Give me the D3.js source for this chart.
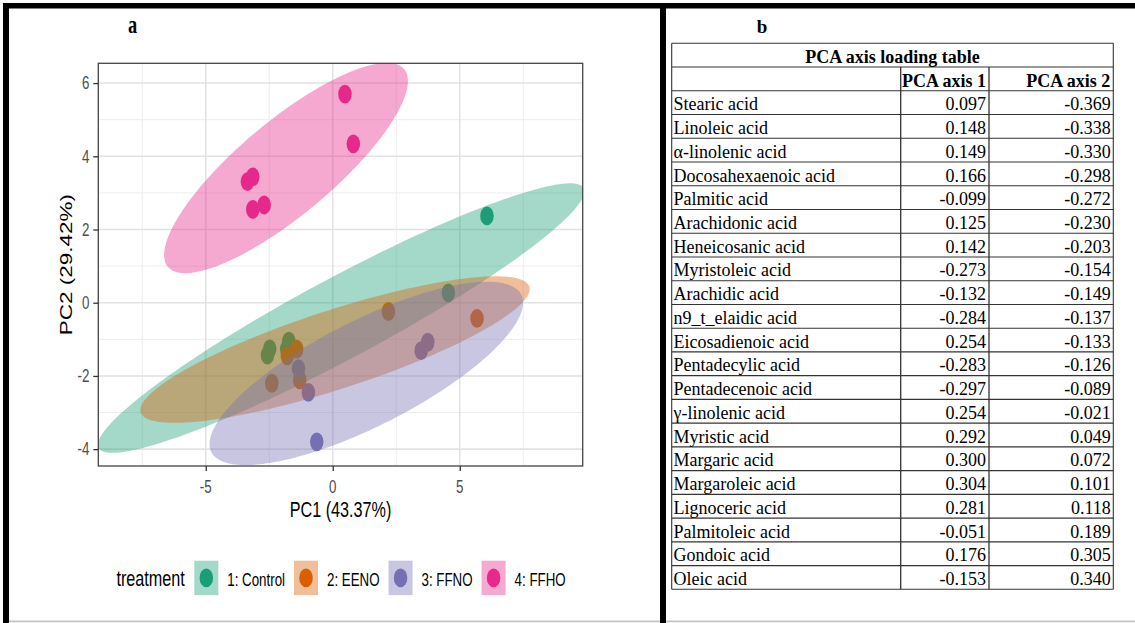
<!DOCTYPE html>
<html><head><meta charset="utf-8">
<script src="https://cdn.jsdelivr.net/npm/d3@7"></script>
<style>html,body{margin:0;padding:0;background:#fff;} svg{display:block}</style>
</head><body>
<svg id="c" width="1135" height="623"></svg>
<script>
// ---------- DATA ----------
const treatments = ["1: Control", "2: EENO", "3: FFNO", "4: FFHO"];
const controlPC1 = [6.07, 4.55, -2.57, -2.48, -1.73, -1.81];
const controlPC2 = [2.37, 0.27, -1.43, -1.26, -1.05, -1.27];
const eenoPC1 = [2.19, 5.68, -2.40, -1.30, -1.42, -1.79];
const eenoPC2 = [-0.24, -0.43, -2.20, -2.11, -1.27, -1.45];
const ffnoPC1 = [3.74, 3.48, -0.96, -0.63, -1.35];
const ffnoPC2 = [-1.08, -1.31, -2.45, -3.80, -1.80];
const ffhoPC1 = [0.48, 0.81, -3.36, -3.15, -3.15, -2.70];
const ffhoPC2 = [5.70, 4.34, 3.31, 3.44, 2.55, 2.67];
// confidence ellipses (data units): centre and two conjugate semi-axes
const ellipseCenters = [[0.33, -0.42], [0.09, -1.28], [1.32, -1.93], [-1.84, 3.68]];
const ellipseAxisA = [[9.55, 3.55], [7.65, 1.72], [6.10, 2.15], [4.65, 2.70]];
const ellipseAxisB = [[0.75, -0.975], [0.478, -1.024], [0.94, -1.284], [1.19, -0.98]];
const xTicks = [-5, 0, 5];
const yTicks = [-4, -2, 0, 2, 4, 6];
const xMinorTicks = [-7.5, -2.5, 2.5, 7.5];
const yMinorTicks = [-3, -1, 1, 3, 5];
const xDomain = [-9.23, 9.84];
const yDomain = [-4.46, 6.54];
const xTitle = "PC1 (43.37%)";
const yTitle = "PC2 (29.42%)";
const legendTitle = "treatment";

const tableTitle = "PCA axis loading table";
const tableHeaders = ["", "PCA axis 1", "PCA axis 2"];
const acidNames = ["Stearic acid", "Linoleic acid", "α-linolenic acid", "Docosahexaenoic acid", "Palmitic acid",
  "Arachidonic acid", "Heneicosanic acid", "Myristoleic acid", "Arachidic acid", "n9_t_elaidic acid",
  "Eicosadienoic acid", "Pentadecylic acid", "Pentadecenoic acid", "γ-linolenic acid", "Myristic acid",
  "Margaric acid", "Margaroleic acid", "Lignoceric acid", "Palmitoleic acid", "Gondoic acid", "Oleic acid"];
const axis1Loadings = [0.097, 0.148, 0.149, 0.166, -0.099, 0.125, 0.142, -0.273, -0.132, -0.284,
  0.254, -0.283, -0.297, 0.254, 0.292, 0.300, 0.304, 0.281, -0.051, 0.176, -0.153];
const axis2Loadings = [-0.369, -0.338, -0.330, -0.298, -0.272, -0.230, -0.203, -0.154, -0.149, -0.137,
  -0.133, -0.126, -0.089, -0.021, 0.049, 0.072, 0.101, 0.118, 0.189, 0.305, 0.340];

// ---------- STYLE ----------
const colors = ["#1B9E77", "#D95F02", "#7570B3", "#E7298A"];
const SX = 0.72;           // horizontal squeeze of the left panel
const SANS = "'Liberation Sans', Arial, sans-serif";
const SERIF = "'Liberation Serif', 'Times New Roman', serif";

const svg = d3.select("#c");
svg.append("rect").attr("width", 1135).attr("height", 623).attr("fill", "#fff");

// frame
svg.append("rect").attr("x", 3).attr("y", 3).attr("width", 1132).attr("height", 5.5).attr("fill", "#000");
svg.append("rect").attr("x", 3).attr("y", 3).attr("width", 6).attr("height", 620).attr("fill", "#000");
svg.append("rect").attr("x", 660).attr("y", 3).attr("width", 6).attr("height", 620).attr("fill", "#000");
svg.append("rect").attr("x", 9).attr("y", 620.5).attr("width", 651).attr("height", 1.8).attr("fill", "#c4c4c4");
svg.append("rect").attr("x", 666).attr("y", 620.5).attr("width", 469).attr("height", 1.8).attr("fill", "#c4c4c4");

function ctext(g, x, y, str, size, opts = {}) {
  return g.append("text")
    .attr("transform", `translate(${x},${y}) scale(${SX},1)` + (opts.rotate ? ` rotate(${opts.rotate})` : ""))
    .attr("text-anchor", opts.anchor || "start")
    .attr("font-family", opts.family || SANS)
    .attr("font-size", size)
    .attr("font-weight", opts.weight || "normal")
    .attr("fill", opts.fill || "#000")
    .text(str);
}

// ---------- PANEL a ----------
const L = { x0: 98.3, x1: 582.7, y0: 63.3, y1: 466 };
const x = d3.scaleLinear().domain(xDomain).range([L.x0, L.x1]);
const y = d3.scaleLinear().domain(yDomain).range([L.y1, L.y0]);

ctext(svg, 132.5, 33.3, "a", 25.5, { anchor: "middle", family: SERIF, weight: "bold" });

const pa = svg.append("g");
svg.append("defs").append("clipPath").attr("id", "clipP")
  .append("rect").attr("x", L.x0).attr("y", L.y0).attr("width", L.x1 - L.x0).attr("height", L.y1 - L.y0);

// grid
const grid = pa.append("g");
xMinorTicks.forEach(v => grid.append("line").attr("x1", x(v)).attr("x2", x(v)).attr("y1", L.y0).attr("y2", L.y1)
  .attr("stroke", "#ededed").attr("stroke-width", 1));
yMinorTicks.forEach(v => grid.append("line").attr("x1", L.x0).attr("x2", L.x1).attr("y1", y(v)).attr("y2", y(v))
  .attr("stroke", "#ededed").attr("stroke-width", 1));
xTicks.forEach(v => grid.append("line").attr("x1", x(v)).attr("x2", x(v)).attr("y1", L.y0).attr("y2", L.y1)
  .attr("stroke", "#e2e2e2").attr("stroke-width", 1.6));
yTicks.forEach(v => grid.append("line").attr("x1", L.x0).attr("x2", L.x1).attr("y1", y(v)).attr("y2", y(v))
  .attr("stroke", "#e2e2e2").attr("stroke-width", 1.6));

// points
const series = [[controlPC1, controlPC2], [eenoPC1, eenoPC2], [ffnoPC1, ffnoPC2], [ffhoPC1, ffhoPC2]];
const plotArea = pa.append("g").attr("clip-path", "url(#clipP)");
series.forEach((s, i) => {
  const pts = s[0].map((v, k) => [v, s[1][k]]);
  plotArea.append("g").selectAll("ellipse").data(pts).join("ellipse")
    .attr("cx", d => x(d[0])).attr("cy", d => y(d[1]))
    .attr("rx", 9.4 * SX).attr("ry", 9.4)
    .attr("fill", colors[i]);
});

// ellipses on top
const line = d3.line().x(d => x(d[0])).y(d => y(d[1])).curve(d3.curveLinearClosed);
ellipseCenters.forEach((c, i) => {
  const A = ellipseAxisA[i], B = ellipseAxisB[i];
  const pts = d3.range(0, 2 * Math.PI, Math.PI / 90).map(t =>
    [c[0] + A[0] * Math.cos(t) + B[0] * Math.sin(t), c[1] + A[1] * Math.cos(t) + B[1] * Math.sin(t)]);
  plotArea.append("path").attr("d", line(pts)).attr("fill", colors[i]).attr("fill-opacity", 0.4);
});

// panel border
pa.append("rect").attr("x", L.x0).attr("y", L.y0).attr("width", L.x1 - L.x0).attr("height", L.y1 - L.y0)
  .attr("fill", "none").attr("stroke", "#444").attr("stroke-width", 1.3);

// axes ticks
const yAx = pa.append("g").attr("transform", `translate(${L.x0},0)`)
  .call(d3.axisLeft(y).tickValues(yTicks).tickSize(5).tickFormat(""));
const xAx = pa.append("g").attr("transform", `translate(0,${L.y1})`)
  .call(d3.axisBottom(x).tickValues(xTicks).tickSize(5).tickFormat(""));
[yAx, xAx].forEach(a => { a.select(".domain").remove(); a.selectAll("line").attr("stroke", "#333").attr("stroke-width", 1.3); });

yTicks.forEach(v => ctext(pa, L.x0 - 9, y(v) + 6.3, String(v), 18.5, { anchor: "end", fill: "#4d4d4d" }));
xTicks.forEach(v => ctext(pa, x(v), 492.5, String(v), 18.5, { anchor: "middle", fill: "#4d4d4d" }));

ctext(pa, (L.x0 + L.x1) / 2, 516.5, xTitle, 22.5, { anchor: "middle" });
ctext(pa, 71.5, (L.y0 + L.y1) / 2, yTitle, 22.5, { anchor: "middle", rotate: -90 });

// legend
const lg = pa.append("g");
let lx = 116.4;
const tt = ctext(lg, lx, 586, legendTitle, 22.5);
lx += tt.node().getComputedTextLength() * SX + 9.5;
treatments.forEach((t, i) => {
  lg.append("rect").attr("x", lx).attr("y", 560.7).attr("width", 24).attr("height", 34.4)
    .attr("fill", colors[i]).attr("fill-opacity", 0.4);
  lg.append("ellipse").attr("cx", lx + 12).attr("cy", 577.9).attr("rx", 9.4 * SX).attr("ry", 9.4).attr("fill", colors[i]);
  const tx = ctext(lg, lx + 33, 585.7, t, 18.5);
  lx += 33 + tx.node().getComputedTextLength() * SX + 9;
});

// ---------- PANEL b : table ----------
svg.append("text").attr("x", 762).attr("y", 32.5).attr("text-anchor", "middle")
  .attr("font-family", SERIF).attr("font-weight", "bold").attr("font-size", 19).text("b");

const colX = [671.7, 900.7, 989, 1113.3];
const tableTop = 43.3, rowH = 23.74;
const nRows = acidNames.length + 2;
const tb = svg.append("g").attr("font-family", SERIF).attr("font-size", 18).attr("fill", "#000");
const rowY = d3.scaleLinear().domain([0, nRows]).range([tableTop, tableTop + rowH * nRows]);

// lines
d3.range(nRows + 1).forEach(k => tb.append("line").attr("x1", colX[0]).attr("x2", colX[3])
  .attr("y1", rowY(k)).attr("y2", rowY(k)).attr("stroke", "#333").attr("stroke-width", 1.1));
tb.append("line").attr("x1", colX[0]).attr("x2", colX[0]).attr("y1", rowY(0)).attr("y2", rowY(nRows)).attr("stroke", "#333").attr("stroke-width", 1.1);
tb.append("line").attr("x1", colX[3]).attr("x2", colX[3]).attr("y1", rowY(0)).attr("y2", rowY(nRows)).attr("stroke", "#333").attr("stroke-width", 1.1);
[colX[1], colX[2]].forEach(cx => tb.append("line").attr("x1", cx).attr("x2", cx).attr("y1", rowY(1)).attr("y2", rowY(nRows))
  .attr("stroke", "#333").attr("stroke-width", 1.3));

const fmt = d3.formatLocale({ decimal: ".", thousands: ",", grouping: [3], currency: ["", ""], minus: "-" }).format(".3f");
tb.append("text").attr("x", (colX[0] + colX[3]) / 2).attr("y", rowY(0) + 19.5).attr("text-anchor", "middle")
  .attr("font-weight", "bold").text(tableTitle);
tableHeaders.forEach((h, j) => { if (h) tb.append("text").attr("x", colX[j + 1] - 3).attr("y", rowY(1) + 19.5)
  .attr("text-anchor", "end").attr("font-weight", "bold").text(h); });
acidNames.forEach((n, k) => {
  const yy = rowY(k + 2) + 19.5;
  tb.append("text").attr("x", colX[0] + 1.8).attr("y", yy).text(n);
  tb.append("text").attr("x", colX[2] - 3).attr("y", yy).attr("text-anchor", "end").text(fmt(axis1Loadings[k]));
  tb.append("text").attr("x", colX[3] - 2.5).attr("y", yy).attr("text-anchor", "end").text(fmt(axis2Loadings[k]));
});
</script>
</body></html>
